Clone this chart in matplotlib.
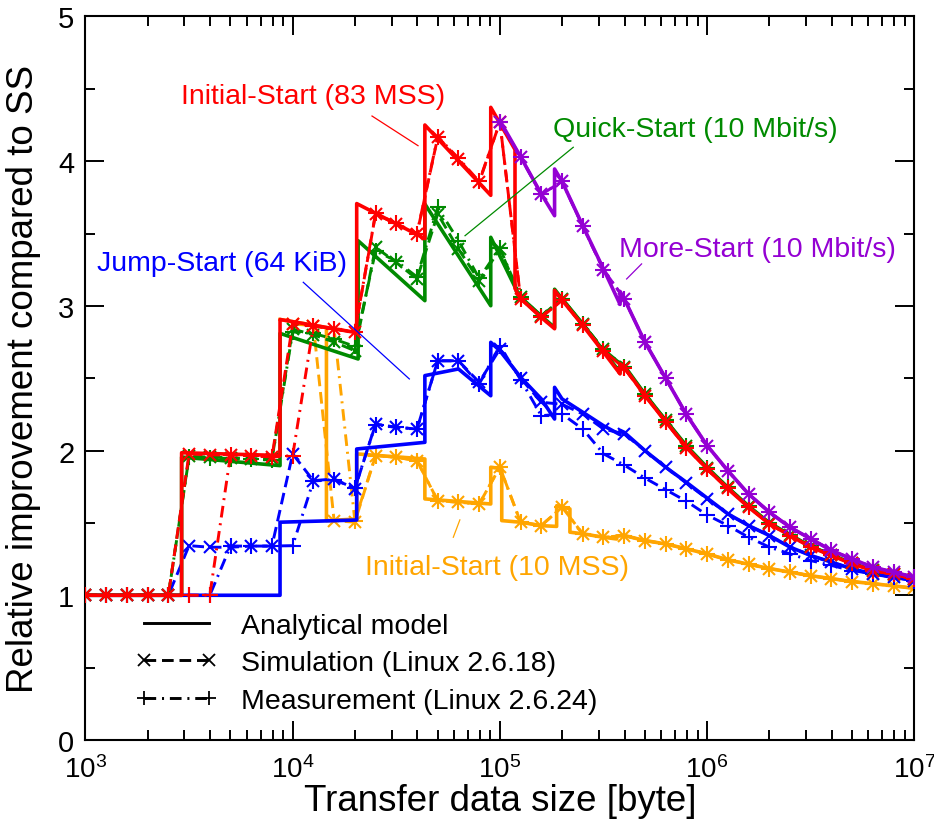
import numpy as np
import matplotlib
matplotlib.use("Agg")
import matplotlib.pyplot as plt
from matplotlib.lines import Line2D
from matplotlib.ticker import LogLocator, MultipleLocator, NullFormatter, LogFormatterSciNotation

plt.rcParams['font.family'] = ['Liberation Sans', 'DejaVu Sans']
plt.rcParams['mathtext.default'] = 'regular'

NaN = np.nan

# ---------------- data ----------------
size_grid = [1000, 1259, 1585, 1995, 2512, 3162, 3981, 5012, 6310, 7943,
             10000, 12589, 15849, 19953, 25119, 31623, 39811, 50119, 63096, 79433,
             100000, 125893, 158489, 199526, 251189, 316228, 398107, 501187, 630957, 794328,
             1000000, 1258925, 1584893, 1995262, 2511886, 3162278, 3981072, 5011872,
             6309573, 7943282, 10000000]

# Initial-Start (83 MSS)
red_sim = [1.0, 1.0, 1.0, 1.0, 1.0, 1.977, 1.97, 1.97, 1.965, 1.955,
           2.875, 2.863, 2.84, 2.818, 3.635, 3.566, 3.497, 4.165, 4.015, 3.854,
           4.27, 3.05, 2.92, 3.04, 2.865, 2.69, 2.57, 2.38, 2.20, 2.02,
           1.87, 1.74, 1.61, 1.495, 1.41, 1.335, 1.275, 1.22, 1.17, 1.145, 1.11]
red_meas = [1.0, 1.0, 1.0, 1.0, 1.0, 1.0, 1.0, 1.97, 1.965, 1.955,
            1.965, 2.86, 2.84, 2.82, 3.64, 3.57, 3.50, 4.17, 4.02, 3.86,
            4.27, 3.05, 2.92, 3.04, 2.865, 2.69, 2.57, 2.38, 2.20, 2.02,
            1.87, 1.74, 1.61, 1.495, 1.41, 1.335, 1.275, 1.22, 1.17, 1.145, 1.11]
red_model_x = [1000, 2911, 2911, 8690, 8690, 20370, 20370, 43450, 43450, 90360, 90360,
               118300, 118300, 125893, 158489, 183650, 183650, 199526, 251189, 316228,
               380200, 380200, 398107, 501187, 630957, 794328, 1000000, 1258925, 1584893,
               1995262, 2511886, 3162278, 3981072, 5011872, 6309573, 7943282, 10000000]
red_model_y = [1.0, 1.0, 1.985, 1.966, 2.906, 2.815, 3.707, 3.465, 4.25, 3.764, 4.372,
               4.08, 3.12, 3.05, 2.92, 2.842, 3.107, 3.04, 2.865, 2.68,
               2.53, 2.60, 2.577, 2.38, 2.20, 2.024, 1.874, 1.736, 1.609,
               1.494, 1.413, 1.333, 1.275, 1.217, 1.171, 1.148, 1.113]

# Quick-Start (10 Mbit/s)
green_sim = [1.0, 1.0, 1.0, 1.0, 1.0, 1.96, 1.955, 1.95, 1.945, 1.94,
             2.84, 2.80, 2.75, 2.69, 3.405, 3.30, 3.186, 3.635, 3.393, 3.174,
             3.393, 3.06, 2.93, 3.05, 2.875, 2.70, 2.58, 2.39, 2.21, 2.03,
             1.88, 1.745, 1.615, 1.50, 1.415, 1.34, 1.28, 1.222, 1.172, 1.147, 1.112]
green_meas = [1.0, 1.0, 1.0, 1.0, 1.0, 1.955, 1.95, 1.945, 1.94, 1.935,
              2.82, 2.81, 2.77, 2.72, 3.38, 3.31, 3.20, 3.68, 3.45, 3.19,
              3.40, 3.06, 2.93, 3.05, 2.875, 2.70, 2.58, 2.39, 2.21, 2.03,
              1.88, 1.745, 1.615, 1.50, 1.415, 1.34, 1.28, 1.222, 1.172, 1.147, 1.112]
green_model_x = [1000, 2911, 2911, 8690, 8690, 20700, 20700, 43450, 43450, 90360, 90360,
                 120200, 125893, 158489, 183650, 183650, 199526, 251189, 316228,
                 380200, 380200, 398107, 501187, 630957, 794328, 1000000, 1258925, 1584893,
                 1995262, 2511886, 3162278, 3981072, 5011872, 6309573, 7943282, 10000000]
green_model_y = [1.0, 1.0, 1.955, 1.896, 2.81, 2.633, 3.45, 3.036, 3.704, 3.001, 3.474,
                 3.11, 3.06, 2.93, 2.85, 3.115, 3.05, 2.875, 2.69,
                 2.54, 2.61, 2.587, 2.39, 2.21, 2.034, 1.884, 1.745, 1.617,
                 1.501, 1.419, 1.338, 1.28, 1.221, 1.175, 1.151, 1.115]

# Jump-Start (64 KiB)
blue_sim = [1.0, 1.0, 1.0, 1.0, 1.0, 1.343, 1.332, 1.332, 1.34, 1.34,
            1.977, 1.792, 1.804, 1.735, 2.184, 2.161, 2.149, 2.621, 2.621, 2.472,
            2.702, 2.50, 2.334, 2.32, 2.253, 2.149, 2.115, 2.0, 1.886, 1.775,
            1.667, 1.563, 1.482, 1.413, 1.335, 1.275, 1.229, 1.183, 1.148, 1.125, 1.10]
blue_meas = [1.0, 1.0, 1.0, 1.0, 1.0, 1.0, 1.0, 1.34, 1.34, 1.34,
             1.343, 1.79, 1.80, 1.74, 2.18, 2.16, 2.15, 2.62, 2.62, 2.46,
             2.725, 2.49, 2.241, 2.253, 2.149, 1.978, 1.90, 1.81, 1.73, 1.65,
             1.555, 1.482, 1.401, 1.333, 1.286, 1.24, 1.206, 1.171, 1.148, 1.125, 1.10]
blue_model_x = [1000, 8690, 8690, 20370, 20370, 43450, 43450, 63100, 90360, 90360,
                100000, 125893, 158489, 183650, 183650, 199526, 251189, 316228,
                380200, 380200, 398107, 501187, 630957, 794328, 1000000, 1258925, 1584893,
                1995262, 2511886, 3162278, 3981072, 5011872, 6309573, 7943282, 10000000]
blue_model_y = [1.0, 1.0, 1.505, 1.52, 2.011, 2.057, 2.518, 2.564, 2.379, 2.748,
                2.69, 2.507, 2.357, 2.218, 2.437, 2.357, 2.265, 2.172,
                2.11, 2.14, 2.126, 2.0, 1.885, 1.781, 1.672, 1.563, 1.482,
                1.413, 1.333, 1.275, 1.229, 1.183, 1.148, 1.125, 1.102]

# Initial-Start (10 MSS)
orange_sim = [NaN] * 10 + [2.875, 2.863, 1.516, 1.505, 1.965, 1.954, 1.93, 1.654, 1.643, 1.631,
              1.885, 1.505, 1.482, 1.609, 1.425, 1.401, 1.413, 1.378, 1.355, 1.321,
              1.286, 1.245, 1.215, 1.185, 1.16, 1.135, 1.115, 1.095, 1.08, 1.065, 1.048]
orange_meas = [NaN] * 11 + [2.86, 2.84, 1.516, 1.965, 1.954, 1.93, 1.654, 1.643, 1.631,
               1.885, 1.505, 1.482, 1.609, 1.425, 1.401, 1.413, 1.378, 1.355, 1.321,
               1.286, 1.245, 1.215, 1.185, 1.16, 1.135, 1.115, 1.095, 1.08, 1.065, 1.048]
orange_model_x = [8690, 14555, 14555, 20370, 20370, 43450, 43450, 90360, 90360, 102100, 102100,
                  125893, 158489, 187900, 187900, 217800, 217800, 251189, 316228, 366400, 366400,
                  398107, 501187, 630957, 794328, 1000000, 1258925, 1584893, 1995262, 2511886,
                  3162278, 3981072, 5011872, 6309573, 7943282, 10000000]
orange_model_y = [2.906, 2.85, 1.516, 1.527, 1.977, 1.942, 1.666, 1.631, 1.885, 1.874, 1.516,
                  1.505, 1.481, 1.476, 1.619, 1.597, 1.436, 1.425, 1.401, 1.389, 1.41,
                  1.413, 1.378, 1.355, 1.321, 1.286, 1.245, 1.215, 1.185, 1.16,
                  1.135, 1.115, 1.095, 1.08, 1.065, 1.048]

# More-Start (10 Mbit/s)
purple_sim = [NaN] * 20 + [4.27, 4.03, 3.77, 3.86, 3.55, 3.25, 3.05, 2.75, 2.50, 2.25,
              2.035, 1.86, 1.70, 1.575, 1.47, 1.39, 1.31, 1.25, 1.195, 1.16, 1.125]
purple_meas = [NaN] * 20 + [4.27, 4.03, 3.77, 3.86, 3.55, 3.25, 3.05, 2.75, 2.50, 2.25,
               2.035, 1.86, 1.70, 1.575, 1.47, 1.39, 1.31, 1.25, 1.195, 1.16, 1.125]
purple_model_x = [100000, 125893, 158489, 183650, 183650, 199526, 251189, 316228,
                  380200, 380200, 398107, 501187, 630957, 794328, 1000000, 1258925, 1584893,
                  1995262, 2511886, 3162278, 3981072, 5011872, 6309573, 7943282, 10000000]
purple_model_y = [4.28, 4.03, 3.773, 3.623, 3.946, 3.86, 3.554, 3.255,
                  3.01, 3.10, 3.05, 2.75, 2.50, 2.25, 2.035, 1.862, 1.70,
                  1.575, 1.47, 1.39, 1.31, 1.25, 1.195, 1.16, 1.125]

legend_labels = ["Analytical model", "Simulation (Linux 2.6.18)", "Measurement (Linux 2.6.24)"]

# ---------------- styling ----------------
RED, GREEN, BLUE, ORANGE, PURPLE = '#ff0000', '#008a00', '#0000ff', '#ffa500', '#9400d3'
MODEL_LW = 2.6
LW = 2.1
DASHED = (0, (4, 2))
DASHDOT = (0, (4, 2, 0.7, 2))

fig = plt.figure(figsize=(9.34, 8.28), dpi=100)
ax = fig.add_axes([0.0915, 0.1051, 0.8874, 0.8738])

groups = [
    (ORANGE, orange_model_x, orange_model_y, orange_sim, orange_meas, 2),
    (BLUE, blue_model_x, blue_model_y, blue_sim, blue_meas, 3),
    (GREEN, green_model_x, green_model_y, green_sim, green_meas, 4),
    (RED, red_model_x, red_model_y, red_sim, red_meas, 5),
    (PURPLE, purple_model_x, purple_model_y, purple_sim, purple_meas, 6),
]
for color, mx, my, sy, my2, z in groups:
    ax.plot(mx, my, color=color, lw=MODEL_LW, zorder=z)
    ax.plot(size_grid, sy, color=color, lw=LW, ls=DASHED, marker='x', ms=9, mew=1.5, zorder=z + 0.1)
    ax.plot(size_grid, my2, color=color, lw=LW, ls=DASHDOT, marker='+', ms=11, mew=1.5, zorder=z + 0.2)

ax.set_xscale('log')
ax.set_xlim(1e3, 1e7)
ax.set_ylim(0, 5)

ax.xaxis.set_major_locator(LogLocator(base=10, numticks=10))
ax.xaxis.set_minor_locator(LogLocator(base=10, subs=np.arange(2, 10), numticks=50))
ax.xaxis.set_minor_formatter(NullFormatter())
ax.xaxis.set_major_formatter(LogFormatterSciNotation())
ax.yaxis.set_major_locator(MultipleLocator(1))
ax.yaxis.set_minor_locator(MultipleLocator(0.5))

ax.tick_params(which='both', direction='in', top=True, right=True, width=1.4)
ax.tick_params(which='major', length=14)
ax.tick_params(which='minor', length=7)
ax.tick_params(axis='y', which='major', labelsize=21, pad=8)
ax.tick_params(axis='x', which='major', labelsize=20, pad=11)
for s in ax.spines.values():
    s.set_linewidth(1.5)

ax.set_xlabel("Transfer data size [byte]", fontsize=26.5, labelpad=0)
ax.set_ylabel("Relative improvement compared to SS", fontsize=26.5, labelpad=12)

# annotations
FS = 20.5
ax.text(12530, 4.45, "Initial-Start (83 MSS)", color=RED, fontsize=FS, ha='center', va='center')
ax.plot([24150, 40270], [4.312, 4.107], color=RED, lw=0.9, zorder=7)
ax.text(875000, 4.222, "Quick-Start (10 Mbit/s)", color=GREEN, fontsize=FS, ha='center', va='center')
ax.plot([226000, 67900], [4.096, 3.485], color=GREEN, lw=0.9, zorder=7)
ax.text(1742000, 3.39, "More-Start (10 Mbit/s)", color=PURPLE, fontsize=FS, ha='center', va='center')
ax.plot([483000, 409000], [3.29, 3.186], color=PURPLE, lw=0.9, zorder=7)
ax.text(4571, 3.296, "Jump-Start (64 KiB)", color=BLUE, fontsize=FS, ha='center', va='center')
ax.plot([11250, 36560], [3.163, 2.495], color=BLUE, lw=0.9, zorder=7)
ax.text(96800, 1.195, "Initial-Start (10 MSS)", color=ORANGE, fontsize=FS, ha='center', va='center')
ax.plot([64100, 59600], [1.521, 1.401], color=ORANGE, lw=0.9, zorder=7)

handles = [
    Line2D([], [], color='k', lw=LW),
    Line2D([], [], color='k', lw=LW, ls=DASHED, marker='x', ms=8, mew=1.3),
    Line2D([], [], color='k', lw=LW, ls=DASHDOT, marker='+', ms=10, mew=1.3),
]
ax.legend(handles, legend_labels, loc='upper left', bbox_to_anchor=(0.06, 0.176),
          frameon=False, fontsize=FS, numpoints=2, handlelength=2.9, handletextpad=0.8,
          labelspacing=0.41, borderpad=0, borderaxespad=0)

fig.savefig('out.png', dpi=100)
